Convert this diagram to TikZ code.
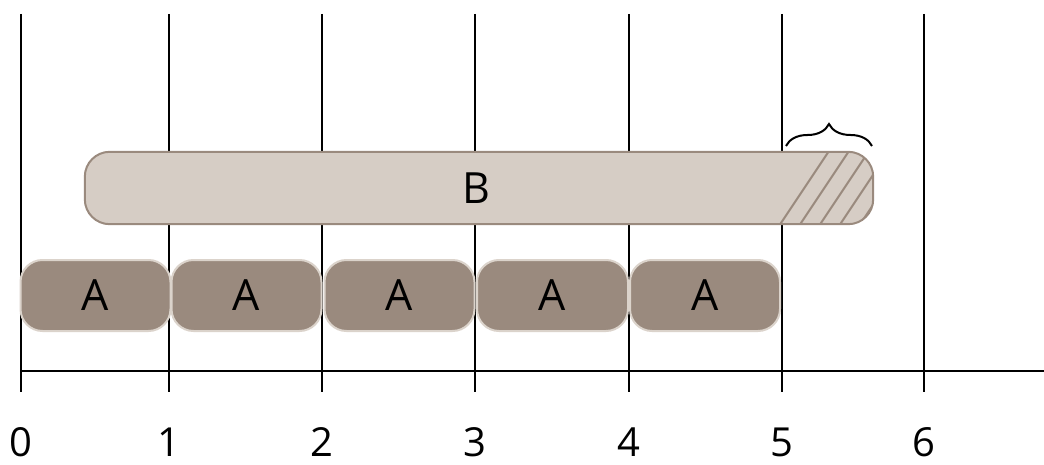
\documentclass[tikz,border=0pt]{standalone}
\usepackage{fontspec}
\setmainfont{Open Sans}
\usetikzlibrary{decorations.pathreplacing}
\definecolor{darkbox}{HTML}{9A8A7E}
\definecolor{lightbox}{HTML}{D6CDC5}
\definecolor{lightedge}{HTML}{DBD3CB}
\begin{document}
\begin{tikzpicture}[x=1pt,y=-1pt,
  gridline/.style={line width=2pt,black},
  axisline/.style={line width=2.6pt,black},
  abox/.style={draw=lightedge,line width=2pt,fill=darkbox,rounded corners=22pt,
    minimum height=71pt,inner sep=0pt,font=\fontsize{43}{50}\selectfont},
  bfill/.style={draw=none,fill=lightbox,rounded corners=25pt,
    minimum height=72pt,minimum width=788pt,inner sep=0pt},
  bedge/.style={draw=darkbox,line width=2pt,rounded corners=25pt},
  ticklabel/.style={font=\fontsize{40}{48}\selectfont,inner sep=0pt,anchor=base},
  hatch/.style={draw=darkbox,line width=2pt},
  bracestyle/.style={line width=2pt,black,decorate,decoration={brace,amplitude=22pt}}]
\useasboundingbox (0,0) rectangle (1044,465);
% grid lines
\foreach \n/\x in {0/21,1/169,2/322,3/475,4/629,5/782,6/924}{
  \coordinate (t\n) at (\x,14);
  \coordinate (b\n) at (\x,392);
  \draw[gridline] (t\n) -- (b\n);
  \node[ticklabel] (l\n) at (\x,456) {\n};
}
\coordinate (ax0) at (21,371);
\coordinate (ax1) at (1044,371);
\draw[axisline] (ax0) -- (ax1);
% A boxes
\node[abox,minimum width=150pt] (a1) at (95.5,295.5) {A};
\node[abox,minimum width=150pt] (a2) at (246.5,295.5) {A};
\node[abox,minimum width=150pt] (a3) at (399.5,295.5) {A};
\node[abox,minimum width=151pt] (a4) at (552.5,295.5) {A};
\node[abox,minimum width=150pt] (a5) at (705,295.5) {A};
% B box with hatch
\node[bfill] (b) at (479,188) {};
\begin{scope}
  \clip[rounded corners=25pt] (b.north west) rectangle (b.south east);
  \foreach \k in {0,...,5}{
    \draw[hatch] (779+20*\k,226) -- (829+20*\k,151);
  }
\end{scope}
\draw[bedge] (b.north west) rectangle (b.south east);
\node[inner sep=0pt,font=\fontsize{43}{50}\selectfont] (btext) at (476,188) {B};
% brace
\coordinate (br0) at (786,146);
\coordinate (br1) at (872,146);
\draw[bracestyle] (br0) -- (br1);
\end{tikzpicture}
\end{document}
